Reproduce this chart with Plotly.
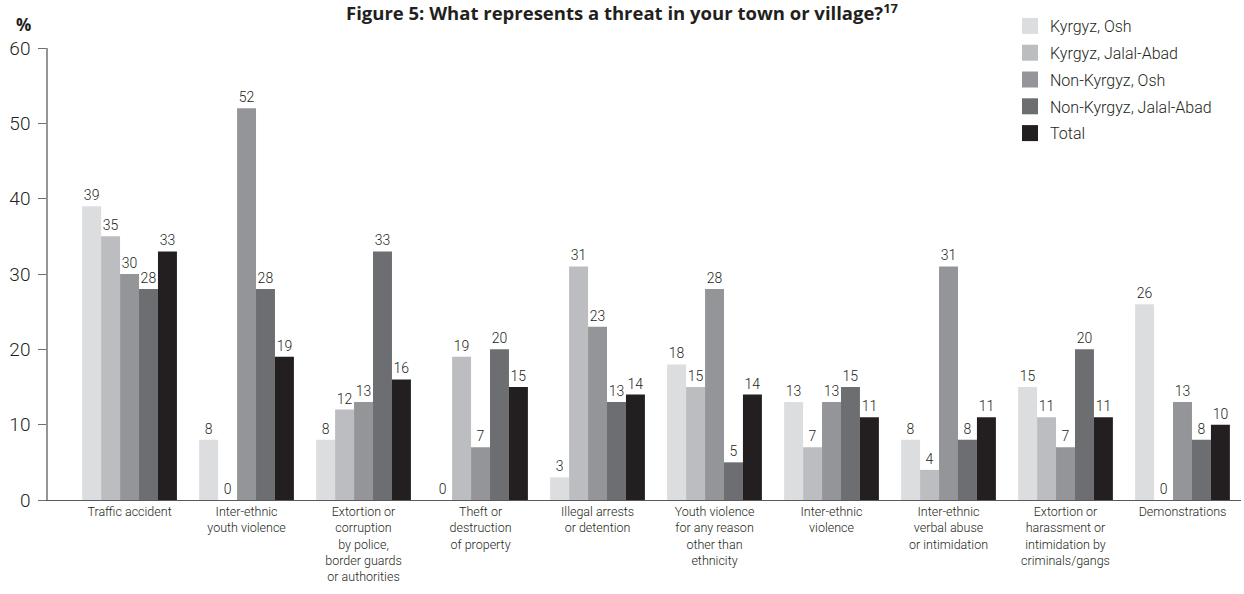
import plotly.graph_objects as go

categories = [
    "Traffic accident",
    "Inter-ethnic<br>youth violence",
    "Extortion or<br>corruption<br>by police,<br>border guards<br>or authorities",
    "Theft or<br>destruction<br>of property",
    "Illegal arrests<br>or detention",
    "Youth violence<br>for any reason<br>other than<br>ethnicity",
    "Inter-ethnic<br>violence",
    "Inter-ethnic<br>verbal abuse<br>or intimidation",
    "Extortion or<br>harassment or<br>intimidation by<br>criminals/gangs",
    "Demonstrations",
]

series_names = [
    "Kyrgyz, Osh",
    "Kyrgyz, Jalal-Abad",
    "Non-Kyrgyz, Osh",
    "Non-Kyrgyz, Jalal-Abad",
    "Total",
]

kyrgyz_osh = [39, 8, 8, 0, 3, 18, 13, 8, 15, 26]
kyrgyz_jalal_abad = [35, 0, 12, 19, 31, 15, 7, 4, 11, 0]
non_kyrgyz_osh = [30, 52, 13, 7, 23, 28, 13, 31, 7, 13]
non_kyrgyz_jalal_abad = [28, 28, 33, 20, 13, 5, 15, 8, 20, 8]
total = [33, 19, 16, 15, 14, 14, 11, 11, 11, 10]

y_ticks = [0, 10, 20, 30, 40, 50, 60]

colors = ["#dcdddf", "#bcbdc0", "#939598", "#6d6e71", "#231f20"]
values = [kyrgyz_osh, kyrgyz_jalal_abad, non_kyrgyz_osh, non_kyrgyz_jalal_abad, total]

FONT = "Roboto"
TITLE_FONT = "Open Sans"
TEXT = "#231f20"
positions = list(range(len(categories)))

fig = go.Figure()
for name, vals, col in zip(series_names, values, colors):
    fig.add_trace(go.Bar(
        name=name,
        x=positions,
        y=vals,
        marker=dict(color=col, line=dict(width=0)),
        text=[str(v) for v in vals],
        textposition="outside",
        textfont=dict(family=FONT, size=14, color=TEXT, weight=300),
        constraintext="none",
        cliponaxis=False,
        showlegend=False,
    ))

# legend entries as large square swatches
for i, (name, col) in enumerate(zip(series_names, colors)):
    fig.add_trace(go.Scatter(
        name=name,
        x=[None], y=[None],
        mode="markers",
        marker=dict(symbol="square", size=22, color=col),
        legendgroup=f"g{i}",
        showlegend=True,
    ))

fig.update_layout(
    width=1244, height=594,
    margin=dict(l=48, r=3, t=48, b=94),
    paper_bgcolor="white",
    plot_bgcolor="white",
    barmode="group",
    bargap=0.19,
    bargroupgap=0,
    font=dict(family=FONT, color=TEXT),
    title=dict(
        text="<b>Figure 5: What represents a threat in your town or village?<sup>17</sup></b>",
        x=622 / 1244, xanchor="center",
        y=1 - 14 / 594, yanchor="middle",
        font=dict(family=TITLE_FONT, size=18.5, color=TEXT),
    ),
    legend=dict(
        x=(1010 - 48) / 1193, xanchor="left",
        y=(500 - 9) / 452, yanchor="top",
        font=dict(family=FONT, size=16, color=TEXT, weight=300),
        itemsizing="trace",
        tracegroupgap=3,
        bgcolor="rgba(0,0,0,0)",
        borderwidth=0,
    ),
    xaxis=dict(
        range=[-0.697, 9.5],
        tickmode="array",
        tickvals=positions,
        ticktext=categories,
        tickfont=dict(family=FONT, size=12.5, color=TEXT, weight=300),
        ticks="",
        showline=True,
        linecolor="#58595b",
        linewidth=1.2,
        showgrid=False,
        zeroline=False,
        fixedrange=True,
    ),
    yaxis=dict(
        range=[0, 60],
        tickmode="array",
        tickvals=y_ticks,
        ticktext=[str(t) for t in y_ticks],
        tickfont=dict(family=FONT, size=19, color=TEXT, weight=300),
        ticks="outside",
        ticklen=8,
        tickcolor="#6d6e71",
        tickwidth=1.2,
        ticklabelstandoff=4,
        showline=True,
        linecolor="#939598",
        linewidth=1.5,
        showgrid=False,
        zeroline=False,
        fixedrange=True,
    ),
    annotations=[
        dict(
            text="<b>%</b>", xref="paper", yref="paper",
            x=(23 - 48) / 1193, y=(500 - 25) / 452,
            xanchor="center", yanchor="middle",
            showarrow=False,
            font=dict(family=TITLE_FONT, size=17, color=TEXT),
        )
    ],
)

fig.write_html("out.html")
